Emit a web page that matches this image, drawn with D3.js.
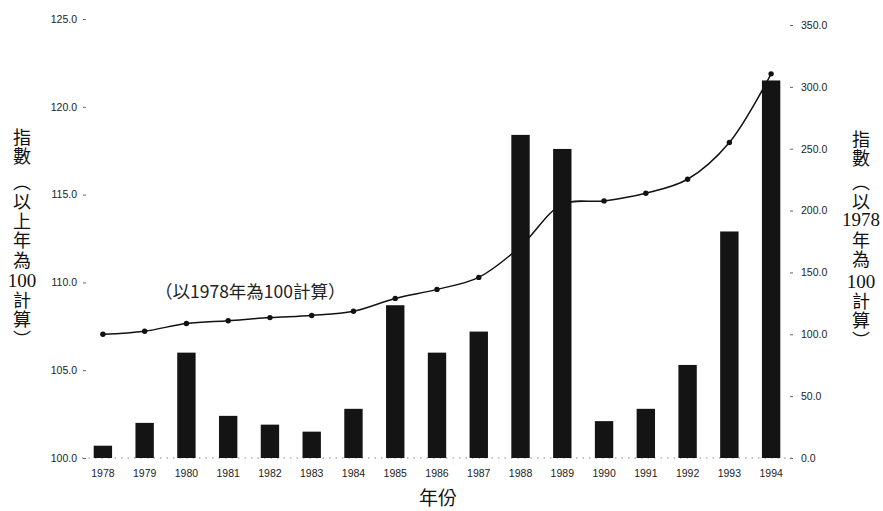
<!DOCTYPE html>
<html>
<head>
<meta charset="utf-8">
<script src="https://cdn.jsdelivr.net/npm/d3@7"></script>
<style>
  body { margin: 0; background: #fff; }
  svg { display: block; }
</style>
</head>
<body>
<div class="chartContainer"></div>
<script>
// data
var years = ['1978', '1979', '1980', '1981', '1982', '1983', '1984', '1985', '1986',
             '1987', '1988', '1989', '1990', '1991', '1992', '1993', '1994'];
// bars: index, previous year = 100 (left axis)
var prevYearIndex = [100.7, 102.0, 106.0, 102.4, 101.9, 101.5, 102.8, 108.7, 106.0,
                     107.2, 118.4, 117.6, 102.1, 102.8, 105.3, 112.9, 121.5];
// line: index, 1978 = 100 (right axis)
var baseYearIndex = [100, 102.5, 108.7, 111.0, 113.5, 115.2, 118.6, 129.0, 136.3,
                     146.0, 171.0, 205.0, 207.8, 214.0, 225.3, 255.0, 310.5];
var leftTicks = [100, 105, 110, 115, 120, 125];
var rightTicks = [0, 50, 100, 150, 200, 250, 300, 350];

// vertical titles, split into runs; y = centre of the first character of each run
var leftTitle = ['指數', '（以上年為', '100', '計算）'];
var leftTitleY = [137, 182, 280, 300];
var rightTitle = ['指數', '（以', '1978', '年為', '100', '計算）'];
var rightTitleY = [139, 182, 219, 240, 281, 301];

var svgWidth = 883;
var svgHeight = 511;

var svg = d3.select('div.chartContainer').append('svg')
    .attr('width', svgWidth).attr('height', svgHeight);

var x = d3.scaleBand().domain(years).range([82, 792])
    .paddingInner(0.56).paddingOuter(0.28);
var yLeft = d3.scaleLinear().domain([100, 125]).range([458, 19]);
var yRight = d3.scaleLinear().domain([0, 350]).range([458, 25]);

var fmt = d3.format('.1f');
var sans = 'Liberation Sans, Arial, sans-serif';
var cjk = '"Noto Sans CJK TC", "Noto Sans CJK SC", sans-serif';
var serif = 'Liberation Serif, DejaVu Serif, serif';

// left axis
var leftAxis = svg.append('g')
    .attr('transform', 'translate(86,0)')
    .call(d3.axisLeft(yLeft).tickValues(leftTicks).tickFormat(fmt).tickSize(3).tickPadding(6));
// right axis
var rightAxis = svg.append('g')
    .attr('transform', 'translate(790,0)')
    .call(d3.axisRight(yRight).tickValues(rightTicks).tickFormat(fmt).tickSize(3).tickPadding(8));

[leftAxis, rightAxis].forEach(function(ax) {
    ax.select('.domain').remove();
    ax.selectAll('line').attr('stroke', '#666');
    ax.selectAll('text').attr('font-family', sans).attr('font-size', '10.5px').attr('fill', '#222');
});

// x axis labels
var xAxis = svg.append('g')
    .attr('transform', 'translate(0,464)')
    .call(d3.axisBottom(x).tickSize(0).tickPadding(6));
xAxis.select('.domain').remove();
xAxis.selectAll('text').attr('font-family', sans).attr('font-size', '10.5px').attr('fill', '#222');

// faint dotted baseline
svg.append('line')
    .attr('x1', x.range()[0]).attr('x2', x.range()[1])
    .attr('y1', yLeft(100)).attr('y2', yLeft(100))
    .attr('stroke', '#888').attr('stroke-width', 1)
    .attr('stroke-dasharray', '1.5,5');

// line (drawn first, bars sit on top of it)
var cx = function(d, i) { return x(years[i]) + x.bandwidth() / 2; };
var line = d3.line()
    .x(cx)
    .y(function(d) { return yRight(d); })
    .curve(d3.curveCatmullRom.alpha(0.5));

svg.append('path')
    .datum(baseYearIndex)
    .attr('d', line)
    .attr('fill', 'none')
    .attr('stroke', '#111')
    .attr('stroke-width', 1.5);

svg.selectAll('circle.pt')
    .data(baseYearIndex)
    .enter()
    .append('circle')
    .attr('class', 'pt')
    .attr('cx', cx)
    .attr('cy', function(d) { return yRight(d); })
    .attr('r', 2.7)
    .attr('fill', '#111');

// bars
svg.selectAll('rect.bar')
    .data(prevYearIndex)
    .enter()
    .append('rect')
    .attr('class', 'bar')
    .attr('x', function(d, i) { return x(years[i]); })
    .attr('width', x.bandwidth())
    .attr('y', function(d) { return yLeft(d); })
    .attr('height', function(d) { return yLeft(100) - yLeft(d); })
    .attr('fill', '#141414');

// note on the line
svg.append('text')
    .attr('x', 155).attr('y', 298)
    .attr('font-family', cjk).attr('font-size', '17.5px').attr('fill', '#222')
    .text('（以1978年為100計算）');

// x title
svg.append('text')
    .attr('x', 438).attr('y', 505)
    .attr('text-anchor', 'middle')
    .attr('font-family', cjk).attr('font-size', '19px').attr('fill', '#111')
    .text('年份');

// vertical axis titles: CJK runs set top-to-bottom, numbers kept upright across
function stackTitle(runs, ys, cxPos) {
    var fs = 18;
    svg.append('g').selectAll('text')
        .data(runs)
        .enter()
        .append('text')
        .each(function(d, i) {
            var t = d3.select(this).attr('fill', '#111').text(d);
            if (/^\d+$/.test(d)) {
                t.attr('x', cxPos).attr('y', ys[i])
                 .attr('dy', '0.35em')
                 .attr('text-anchor', 'middle')
                 .attr('font-family', serif)
                 .attr('font-size', '19px');
            } else {
                t.attr('x', cxPos).attr('y', ys[i] - fs / 2)
                 .style('writing-mode', 'vertical-rl')
                 .style('text-orientation', 'mixed')
                 .attr('letter-spacing', '1.5px')
                 .attr('font-family', cjk)
                 .attr('font-size', fs + 'px');
            }
        });
}
stackTitle(leftTitle, leftTitleY, 22);
stackTitle(rightTitle, rightTitleY, 861);
</script>
</body>
</html>
